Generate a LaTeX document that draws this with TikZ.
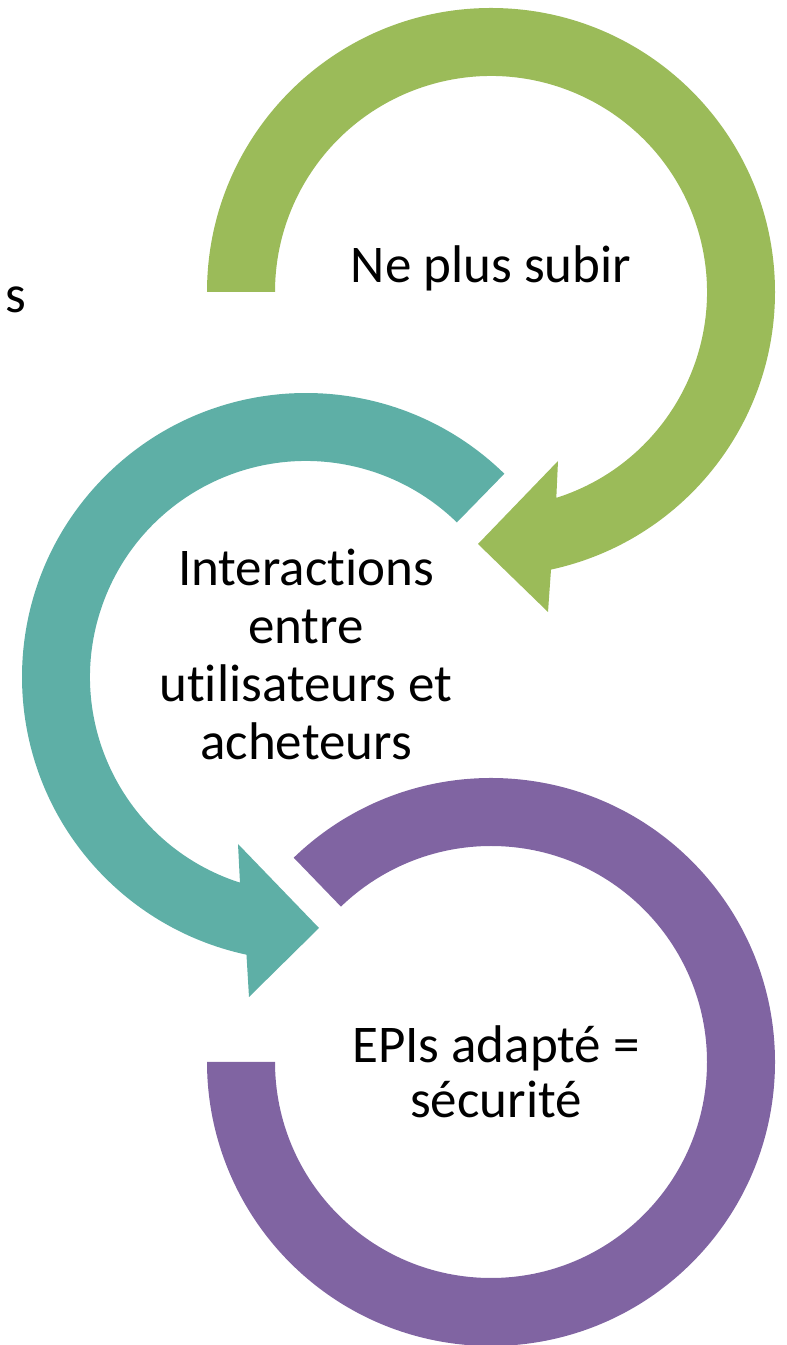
\documentclass[tikz,border=0pt]{standalone}
\usepackage{fontspec}
\setmainfont[Ligatures=NoCommon]{Carlito}
\definecolor{ringgreen}{HTML}{9BBB59}
\definecolor{ringteal}{HTML}{5EAFA6}
\definecolor{ringpurple}{HTML}{8064A2}
\tikzset{
  ringtext/.style={font=\fontsize{53}{58}\selectfont, align=center, inner sep=0pt, anchor=base},
}
\begin{document}
\begin{tikzpicture}[x=1pt, y=1pt]
            \def\Ro{284}; % outer radius
            \def\Ri{216}; % inner radius
            \useasboundingbox (0,0) rectangle (787,1345);

            % centres of the rings
            \coordinate (gc) at (491,1053);
            \coordinate (tc) at (306,668);
            \coordinate (pc) at (491,283);

            % green arrow
            \fill[ringgreen] ([shift={(180:\Ro)}]gc) arc[start angle=180, end angle=-77.8, radius=\Ro pt]
                -- (548,733) -- (478,801) -- (558,884)
                -- ([shift={(-72.4:\Ri)}]gc) arc[start angle=-72.4, end angle=180, radius=\Ri pt] -- cycle;

            % teal arrow
            \fill[ringteal] ([shift={(45.7:\Ro)}]tc) arc[start angle=45.7, end angle=257.9, radius=\Ro pt]
                -- (249,348) -- (319,417) -- (238,501)
                -- ([shift={(252.2:\Ri)}]tc) arc[start angle=252.2, end angle=45.7, radius=\Ri pt] -- cycle;

            % purple ring, no head
            \fill[ringpurple] ([shift={(134:\Ro)}]pc) arc[start angle=134, end angle=-180, radius=\Ro pt]
                -- ([shift={(180:\Ri)}]pc) arc[start angle=-180, end angle=134, radius=\Ri pt] -- cycle;

            % texts (base = last line)
            \node[ringtext] (subir) at (491,1062) {Ne plus subir};
            \node[ringtext] (interactions) at (306,585) {Interactions\\entre\\utilisateurs et\\acheteurs};
            \node[ringtext, font=\fontsize{53}{55}\selectfont] (epis) at (496,227) {EPIs adapté =\\sécurité};

            % cut-off text at the left
            \node[ringtext, anchor=base west] (cut) at (5,1032) {s};
\end{tikzpicture}
\end{document}
